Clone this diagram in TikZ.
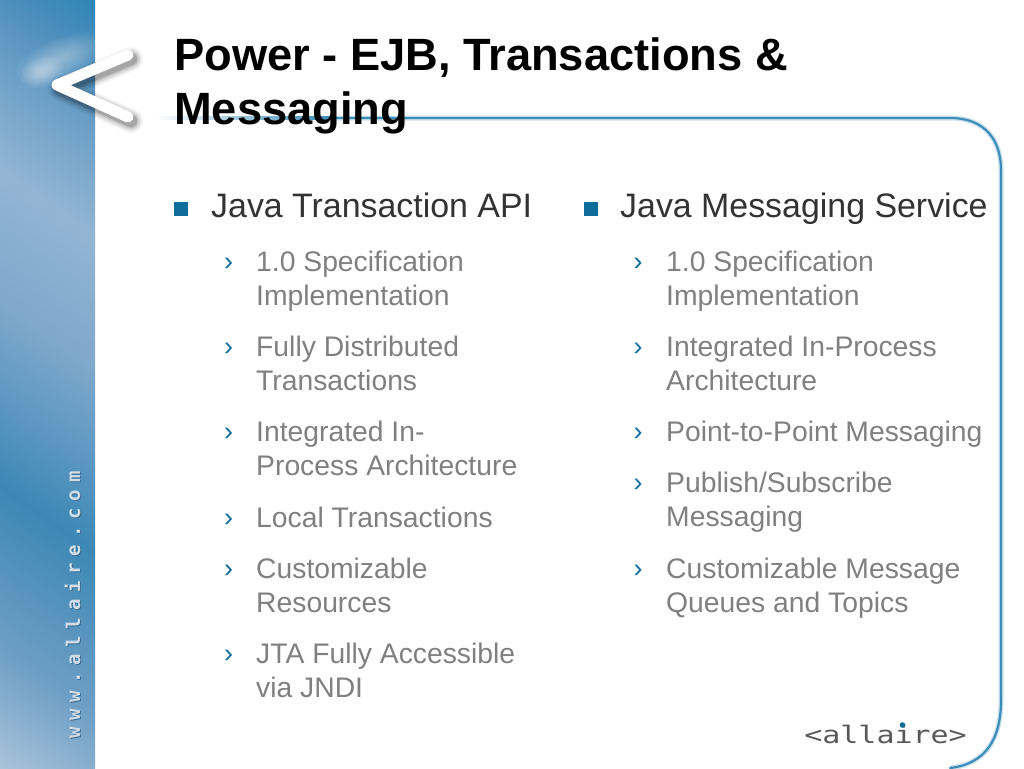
\documentclass[tikz,border=0pt]{standalone}
\usepackage{fontspec}
\setmainfont{Liberation Sans}
\newfontfamily\logofont{DejaVu Sans Mono}
\newfontfamily\urlfont[LetterSpace=36]{DejaVu Sans Mono}
\definecolor{mainc}{HTML}{333333}
\definecolor{subc}{HTML}{808080}
\definecolor{bluec}{HTML}{0F6D9C}
\definecolor{linec}{HTML}{3A8DB8}
\definecolor{s0}{HTML}{C0D4E4}
\definecolor{s1}{HTML}{A8C3DA}
\definecolor{s2}{HTML}{6F9FC5}
\definecolor{s3}{HTML}{3C88B5}
\definecolor{s4}{HTML}{5C97C2}
\definecolor{s5}{HTML}{7FA8CB}
\definecolor{s6}{HTML}{92B5D3}
\definecolor{s7}{HTML}{6A9EC6}
\definecolor{s8}{HTML}{4F8FBD}
\definecolor{s9}{HTML}{2E86B5}
\definecolor{urlc}{HTML}{CFDDE9}
\definecolor{urld}{HTML}{3F6F95}
\pgfdeclareverticalshading{sidev}{1000bp}{
 color(0bp)=(s0);
 color(160bp)=(s1);
 color(255bp)=(s2);
 color(390bp)=(s3);
 color(460bp)=(s4);
 color(540bp)=(s5);
 color(648bp)=(s6);
 color(738bp)=(s7);
 color(787bp)=(s8);
 color(840bp)=(s9);
 color(1000bp)=(s9)}
\tikzset{
 ttl/.style={anchor=base west,inner sep=0pt,font=\fontsize{45.25}{54}\bfseries\selectfont,text=black},
 mainitem/.style={anchor=base west,inner sep=0pt,font=\fontsize{33.9}{40}\selectfont,text=mainc},
 subitem/.style={anchor=base west,inner sep=0pt,font=\fontsize{28.3}{34}\selectfont,text=subc},
 chev/.style={anchor=base,inner sep=0pt,font=\fontsize{27}{28}\selectfont,text=bluec},
 sq/.style={fill=bluec,inner sep=0pt,minimum size=14,draw=none},
 frame/.style={draw=linec,line width=2.2,line cap=round},
 halo/.style={draw=linec!25,line width=5},
 urltext/.style={rotate=90,anchor=base west,inner sep=0pt,font=\urlfont\bfseries\fontsize{19}{19}\selectfont},
}
\begin{document}
\begin{tikzpicture}[x=1pt,y=-1pt]
\useasboundingbox (0,0) rectangle (1024,768);
\fill[white] (0,0) rectangle (1024,768);
% side band
\begin{scope}
\clip (0,0) rectangle (95,768);
\node[inner sep=0pt,rotate=-35] (bandshade) at (47,384) {\pgfuseshading{sidev}};
\foreach \k in {1,...,10}{
 \fill[white,opacity=.045,shift={(62,58)},rotate=22] (0,0) ellipse ({4.8*\k} and {2.0*\k});
 \fill[white,opacity=.05,shift={(42,72)},rotate=22] (0,0) ellipse ({2.2*\k} and {1.5*\k});
}
\end{scope}
% frame
\coordinate (fs) at (330,118);
\coordinate (fa) at (950,118);
\coordinate (fb) at (1001,170);
\coordinate (fc) at (1001,700);
\coordinate (fd) at (950,768);
\shade[left color=white,right color=linec] (155,116.9) rectangle (330,119.1);
\draw[halo] (fs) -- (fa) .. controls (985,118) and (1001,140) .. (fb) -- (fc) .. controls (1001,740) and (985,764) .. (fd);
\draw[frame] (fs) -- (fa) .. controls (985,118) and (1001,140) .. (fb) -- (fc) .. controls (1001,740) and (985,764) .. (fd);
% chevron logo
\coordinate (ca) at (128,55);
\coordinate (cb) at (57,85);
\coordinate (cc) at (128,117);
\foreach \w/\o in {24/.04,21/.05,18/.07,15/.1,12/.14}{
 \draw[black,opacity=\o,line width=\w,line cap=round,line join=round] ([shift={(3,4)}]ca) -- ([shift={(3,4)}]cb) -- ([shift={(3,4)}]cc);}
\draw[white,line width=11,line cap=round,line join=round] (ca) -- (cb) -- (cc);
% url
\node[urltext,text=urld] (urlb) at (81,740) {www.allaire.com};
\node[urltext,text=urlc] (url) at (80,739) {www.allaire.com};
% title
\node[ttl] (t1) at (174,70.5) {Power - EJB, Transactions \&};
\node[ttl] (t2) at (174,124.5) {Messaging};
% left
\node[sq] (b1) at (181,209) {};
\node[mainitem] (m1) at (211,217.5) {Java Transaction API};
\foreach \n/\y/\s/\c in {
 a1/271/{1.0 Specification}/1, a2/305/{Implementation}/0,
 a3/356/{Fully Distributed}/1, a4/390/{Transactions}/0,
 a5/441/{Integrated In-}/1, a6/475/{Process Architecture}/0,
 a7/527/{Local Transactions}/1,
 a8/578/{Customizable}/1, a9/612/{Resources}/0,
 a10/663/{JTA Fully Accessible}/1, a11/697/{via JNDI}/0}{
 \node[subitem] (\n) at (256,\y) {\s};
 \ifnum\c=1 \node[chev] (c\n) at (228.5,\y-0.5) {›};\fi
}
% right
\node[sq] (b2) at (591,209) {};
\node[mainitem] (m2) at (620,217.5) {Java Messaging Service};
\foreach \n/\y/\s/\c in {
 r1/271/{1.0 Specification}/1, r2/305/{Implementation}/0,
 r3/356/{Integrated In-Process}/1, r4/390/{Architecture}/0,
 r5/441/{Point-to-Point Messaging}/1,
 r6/492/{Publish/Subscribe}/1, r7/526/{Messaging}/0,
 r8/578/{Customizable Message}/1, r9/612/{Queues and Topics}/0}{
 \node[subitem] (\n) at (666,\y) {\s};
 \ifnum\c=1 \node[chev] (c\n) at (638,\y-0.5) {›};\fi
}
% logo
\node[anchor=base west,inner sep=0pt,xscale=1.25,text=black!65,font=\logofont\fontsize{24}{24}\selectfont] (al) at (804,743) {<allaire>};
\fill[bluec] (902.5,725) circle (2.8);
\end{tikzpicture}
\end{document}
